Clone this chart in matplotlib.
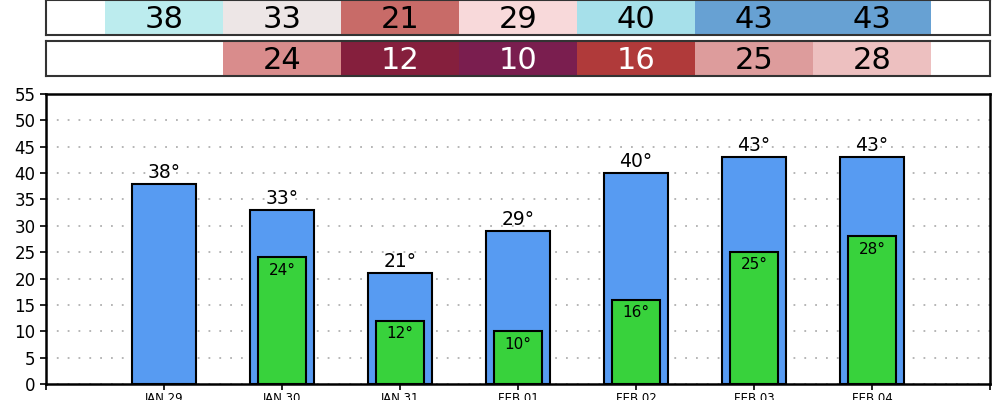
import matplotlib
matplotlib.use("Agg")
import matplotlib.pyplot as plt
import numpy as np

days = ['JAN 29', 'JAN 30', 'JAN 31', 'FEB 01', 'FEB 02', 'FEB 03', 'FEB 04']
highs = [38, 33, 21, 29, 40, 43, 43]
lows = [None, 24, 12, 10, 16, 25, 28]

high_colors = ['#bcecee', '#ede6e6', '#c86b68', '#f8d9da', '#a6e0ea', '#67a1d3', '#67a1d3']
low_colors = [None, '#d98c8c', '#851f3d', '#7a1e4f', '#b03a3a', '#dd9c9c', '#edc0c0']
low_text = [None, 'black', 'white', 'white', 'white', 'black', 'black']

fig = plt.figure(figsize=(10, 4), dpi=100)
x = np.arange(len(days))

# main bar chart
ax = fig.add_axes([0.046, 0.04, 0.944, 0.725])
ax.bar(x, highs, width=0.55, color='#579bf2', edgecolor='black', linewidth=1.5, zorder=2)
lx = [i for i in x if lows[i] is not None]
lv = [lows[i] for i in lx]
ax.bar(lx, lv, width=0.4, color='#38d23c', edgecolor='black', linewidth=1.5, zorder=3)
for i, h in enumerate(highs):
    ax.text(i, h + 0.4, f'{h}°', ha='center', va='bottom', fontsize=13.5, zorder=4)
for i, l in zip(lx, lv):
    ax.text(i, l - 1.0, f'{l}°', ha='center', va='top', fontsize=11, zorder=4)

ax.set_xlim(-1, 7)
ax.set_ylim(0, 55)
ax.set_yticks(range(0, 56, 5))
ax.set_xticks(list(x) + [-1, 7])
ax.set_xticklabels(days + ['', ''], fontsize=8.5)
ax.tick_params(axis='y', labelsize=12, length=4, width=1.2)
ax.tick_params(axis='x', length=4, width=1.2, pad=2)
ax.yaxis.grid(True, linestyle=(0, (1, 5)), color='#b0b0b0', linewidth=1.3, zorder=0)
ax.set_axisbelow(True)
for s in ax.spines.values():
    s.set_linewidth(1.8)
    s.set_color('black')

# top rows with high / low cells
def cell_row(ypos, vals, colors, tcolors):
    rax = fig.add_axes([0.046, ypos, 0.944, 0.0875])
    for i, v in enumerate(vals):
        if v is None:
            continue
        rax.bar(i, 1, width=1, bottom=0, color=colors[i], linewidth=0)
        rax.text(i, 0.45, str(v), ha='center', va='center', fontsize=22, color=tcolors[i])
    rax.set_xlim(-1, 7)
    rax.set_ylim(0, 1)
    rax.set_xticks([])
    rax.set_yticks([])
    for s in rax.spines.values():
        s.set_linewidth(1.5)
        s.set_color('#333333')
    return rax

cell_row(0.9125, highs, high_colors, ['black'] * 7)
cell_row(0.81, lows, low_colors, low_text)

fig.savefig('out.png', dpi=100)
